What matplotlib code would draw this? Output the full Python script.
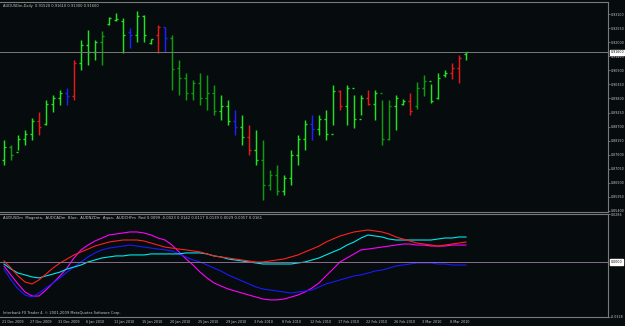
import matplotlib
matplotlib.use('Agg')
import matplotlib.pyplot as plt

dates = ['21 Dec 2009', '27 Dec 2009', '31 Dec 2009', '6 Jan 2010', '11 Jan 2010', '15 Jan 2010',
         '20 Jan 2010', '25 Jan 2010', '29 Jan 2010', '3 Feb 2010', '8 Feb 2010', '12 Feb 2010',
         '17 Feb 2010', '22 Feb 2010', '26 Feb 2010', '3 Mar 2010', '8 Mar 2010']

opens = [0.8740, 0.8790, 0.8770, 0.8820, 0.8840, 0.8890, 0.8880, 0.8960, 0.8980, 0.9000,
         0.8990, 0.9120, 0.9190, 0.9160, 0.9200, 0.9271, 0.9287, 0.9283, 0.9240, 0.9228,
         0.9303, 0.9197, 0.9228, 0.9259, 0.9217, 0.9099, 0.9060, 0.9000, 0.9040, 0.8980,
         0.9000, 0.8930, 0.8950, 0.8890, 0.8870, 0.8830, 0.8780, 0.8740, 0.8640, 0.8680,
         0.8620, 0.8670, 0.8760, 0.8820, 0.8880, 0.8860, 0.8900, 0.8840, 0.9010, 0.8950,
         0.9020, 0.8900, 0.8980, 0.8960, 0.9000, 0.8820, 0.8950, 0.8960, 0.8970, 0.8950,
         0.9020, 0.9050, 0.8980, 0.9070, 0.9080, 0.9100, 0.9152]
highs = [0.8818, 0.8798, 0.8837, 0.8857, 0.8904, 0.8927, 0.8974, 0.8994, 0.9013, 0.9021,
         0.9130, 0.9209, 0.9248, 0.9209, 0.9244, 0.9299, 0.9314, 0.9295, 0.9256, 0.9322,
         0.9306, 0.9213, 0.9267, 0.9259, 0.9228, 0.9130, 0.9080, 0.9052, 0.9080, 0.9072,
         0.9033, 0.8994, 0.8974, 0.8935, 0.8915, 0.8876, 0.8857, 0.8818, 0.8700, 0.8720,
         0.8681, 0.8778, 0.8837, 0.8896, 0.8915, 0.8915, 0.8935, 0.9033, 0.9013, 0.9033,
         0.8994, 0.8994, 0.9013, 0.9013, 0.8974, 0.8974, 0.8994, 0.8978, 0.9001, 0.9044,
         0.9072, 0.9037, 0.9080, 0.9091, 0.9119, 0.9150, 0.9161]
lows = [0.8720, 0.8739, 0.8778, 0.8798, 0.8818, 0.8837, 0.8876, 0.8927, 0.8954, 0.8954,
        0.8974, 0.9091, 0.9111, 0.9130, 0.9111, 0.9267, 0.9283, 0.9158, 0.9177, 0.9201,
        0.9201, 0.9193, 0.9158, 0.9162, 0.9013, 0.8994, 0.8974, 0.8974, 0.8954, 0.8935,
        0.8915, 0.8896, 0.8876, 0.8837, 0.8798, 0.8759, 0.8720, 0.8583, 0.8622, 0.8603,
        0.8603, 0.8642, 0.8720, 0.8778, 0.8818, 0.8837, 0.8818, 0.8876, 0.8935, 0.8876,
        0.8865, 0.8915, 0.8954, 0.8896, 0.8798, 0.8818, 0.8857, 0.8954, 0.8915, 0.8939,
        0.8990, 0.8962, 0.8978, 0.9064, 0.9056, 0.9040, 0.9130]
closes = [0.8790, 0.8760, 0.8820, 0.8840, 0.8890, 0.8870, 0.8960, 0.8980, 0.9000, 0.8990,
          0.9120, 0.9190, 0.9160, 0.9200, 0.9224, 0.9295, 0.9291, 0.9228, 0.9228, 0.9303,
          0.9228, 0.9213, 0.9259, 0.9217, 0.9095, 0.9060, 0.9000, 0.9040, 0.8980, 0.9000,
          0.8930, 0.8950, 0.8890, 0.8870, 0.8830, 0.8780, 0.8740, 0.8640, 0.8680, 0.8620,
          0.8670, 0.8760, 0.8820, 0.8880, 0.8860, 0.8900, 0.8840, 0.9010, 0.8950, 0.9020,
          0.8900, 0.8980, 0.8960, 0.9000, 0.8820, 0.8950, 0.8980, 0.8970, 0.8930, 0.9020,
          0.9050, 0.8970, 0.9060, 0.9080, 0.9100, 0.9140, 0.9160]
bar_kinds = list('LGLLLRLLLBRLLLGLLLBLLLRBGGGGGGGLLBLRLGGGLLLLBLLLRLLLRLGGLLRGGLLLRRL')

audusd = [-0.0024, -0.0078, -0.0131, -0.0179, -0.0203, -0.0203, -0.0167, -0.0125, -0.0083, -0.0036,
          0.0024, 0.0072, 0.0101, 0.0125, 0.0143, 0.0161, 0.0167, 0.0173, 0.0179, 0.0179,
          0.0173, 0.0161, 0.0143, 0.0131, 0.0101, 0.0060, 0.0018, -0.0018, -0.0060, -0.0095,
          -0.0125, -0.0143, -0.0161, -0.0173, -0.0185, -0.0197, -0.0209, -0.0221, -0.0226, -0.0226,
          -0.0221, -0.0209, -0.0197, -0.0179, -0.0155, -0.0125, -0.0083, -0.0042, 0.0000, 0.0024,
          0.0048, 0.0072, 0.0077, 0.0083, 0.0089, 0.0095, 0.0101, 0.0107, 0.0107, 0.0101,
          0.0101, 0.0095, 0.0095, 0.0095, 0.0101, 0.0101, 0.0101]
audcad = [-0.0042, -0.0107, -0.0161, -0.0197, -0.0209, -0.0185, -0.0155, -0.0125, -0.0095, -0.0060,
          -0.0030, 0.0000, 0.0030, 0.0054, 0.0072, 0.0083, 0.0089, 0.0095, 0.0101, 0.0095,
          0.0089, 0.0083, 0.0077, 0.0072, 0.0066, 0.0048, 0.0030, 0.0012, 0.0000, -0.0018,
          -0.0036, -0.0054, -0.0077, -0.0095, -0.0113, -0.0131, -0.0149, -0.0161, -0.0167, -0.0173,
          -0.0179, -0.0185, -0.0179, -0.0173, -0.0167, -0.0149, -0.0131, -0.0119, -0.0107, -0.0095,
          -0.0083, -0.0077, -0.0066, -0.0054, -0.0048, -0.0036, -0.0024, -0.0018, -0.0012, -0.0006,
          -0.0006, -0.0006, -0.0012, -0.0012, -0.0018, -0.0018, -0.0018]
audnzd = [-0.0012, -0.0042, -0.0066, -0.0077, -0.0089, -0.0095, -0.0083, -0.0072, -0.0060, -0.0042,
          -0.0030, -0.0018, 0.0000, 0.0012, 0.0024, 0.0030, 0.0036, 0.0036, 0.0042, 0.0042,
          0.0042, 0.0048, 0.0048, 0.0048, 0.0048, 0.0048, 0.0054, 0.0054, 0.0054, 0.0048,
          0.0036, 0.0030, 0.0018, 0.0012, 0.0006, 0.0000, -0.0006, -0.0012, -0.0012, -0.0012,
          -0.0012, -0.0012, -0.0006, 0.0000, 0.0012, 0.0024, 0.0042, 0.0060, 0.0077, 0.0101,
          0.0119, 0.0143, 0.0161, 0.0155, 0.0149, 0.0137, 0.0131, 0.0131, 0.0131, 0.0131,
          0.0131, 0.0131, 0.0137, 0.0143, 0.0143, 0.0149, 0.0149]
audchf = [0.0006, -0.0036, -0.0083, -0.0119, -0.0131, -0.0107, -0.0072, -0.0036, -0.0006, 0.0018,
          0.0042, 0.0060, 0.0077, 0.0095, 0.0107, 0.0119, 0.0125, 0.0131, 0.0131, 0.0131,
          0.0125, 0.0113, 0.0101, 0.0089, 0.0083, 0.0077, 0.0072, 0.0066, 0.0060, 0.0048,
          0.0036, 0.0030, 0.0024, 0.0018, 0.0012, 0.0006, 0.0000, 0.0000, 0.0006, 0.0012,
          0.0018, 0.0030, 0.0042, 0.0060, 0.0077, 0.0095, 0.0119, 0.0137, 0.0155, 0.0167,
          0.0179, 0.0185, 0.0191, 0.0185, 0.0179, 0.0167, 0.0149, 0.0137, 0.0125, 0.0113,
          0.0107, 0.0101, 0.0095, 0.0101, 0.0107, 0.0113, 0.0119]

price_ticks = [0.85400, 0.85950, 0.86500, 0.87050, 0.87600, 0.88150, 0.88700, 0.89250,
               0.89800, 0.90350, 0.90900, 0.91450, 0.92000, 0.92550, 0.93100]
bid_price = 0.91600
osc_ticks = [0.0286, -0.0328]
osc_zero = 0.0

W, H = 625, 326
BG = '#060b0d'
GRID = '#7a7a7a'
TXT = '#c8c8c8'
kind_color = {'L': '#22e022', 'G': '#109a10', 'R': '#e81818', 'B': '#2020ff'}
LBL = 2.3

fig = plt.figure(figsize=(W / 100, H / 100), dpi=100, facecolor=BG)


def fx(px):
    return px / W


def fy(py):
    return 1 - py / H


PR = 608
m_top, m_bot = 2, 212
o_top, o_bot = 214, 317
x0_px, step_px = 4, 7
xlim = (-x0_px / step_px, (PR - x0_px) / step_px)

axm = fig.add_axes([0, fy(m_bot), fx(PR), (m_bot - m_top) / H], facecolor=BG)
axo = fig.add_axes([0, fy(o_bot), fx(PR), (o_bot - o_top) / H], facecolor=BG)

s = 0.000391
a = 0.9365
axm.set_ylim(a - s * m_bot, a - s * m_top)
axm.set_xlim(*xlim)
so = 0.000596
axo.set_ylim((262 - o_bot) * so, (262 - o_top) * so)
axo.set_xlim(*xlim)

for ax in (axm, axo):
    ax.spines['left'].set_visible(False)
    for side in ('top', 'bottom', 'right'):
        ax.spines[side].set_color(GRID)
        ax.spines[side].set_linewidth(0.8)
    ax.set_xticks([])
    ax.yaxis.tick_right()
    ax.tick_params(axis='y', colors=GRID, length=1.6, width=0.6, labelsize=LBL,
                   labelcolor=TXT, pad=0.6)

tw = 0.32
for i in range(len(opens)):
    c = kind_color[bar_kinds[i]]
    axm.plot([i, i], [lows[i], highs[i]], color=c, lw=1.05, solid_capstyle='butt')
    axm.plot([i - tw, i], [opens[i], opens[i]], color=c, lw=1.0, solid_capstyle='butt')
    axm.plot([i, i + tw], [closes[i], closes[i]], color=c, lw=1.0, solid_capstyle='butt')

axm.set_yticks(price_ticks)
axm.set_yticklabels(['%.5f' % v for v in price_ticks])
axm.axhline(bid_price, color=GRID, lw=0.7)
axm.text(1.004, bid_price, '%.5f' % bid_price, transform=axm.get_yaxis_transform(),
         ha='left', va='center', fontsize=LBL, color='black', zorder=10,
         bbox=dict(boxstyle='square,pad=0.25', fc='white', ec='white'), clip_on=False)

xs = list(range(len(audusd)))
axo.plot(xs, audusd, color='#ff00ff', lw=0.8)
axo.plot(xs, audcad, color='#1a1aff', lw=0.8)
axo.plot(xs, audnzd, color='#00e8f0', lw=0.8)
axo.plot(xs, audchf, color='#ff2020', lw=0.8)
axo.axhline(osc_zero, color='#8c6c8c', lw=0.7)
axo.set_yticks(osc_ticks)
axo.set_yticklabels(['%.4f' % v for v in osc_ticks])
axo.text(1.004, osc_zero, '0.0000', transform=axo.get_yaxis_transform(),
         ha='left', va='center', fontsize=LBL, color='black', zorder=10,
         bbox=dict(boxstyle='square,pad=0.25', fc='white', ec='white'), clip_on=False)

for k, d in enumerate(dates):
    i = 4 * k
    px = x0_px + step_px * i
    fig.text(fx(px - 2), fy(322), d, fontsize=2.4, color=TXT, ha='left', va='center')

fig.text(fx(3), fy(5.5), 'AUDUSDm,Daily  0.91520 0.91610 0.91300 0.91600', fontsize=2.6,
         color=TXT, ha='left', va='center')
fig.text(fx(3), fy(218), 'AUDUSDm  Magenta,  AUDCADm  Blue,  AUDNZDm  Aqua,  AUDCHFm  Red 0.0099 '
         '-0.0023 0.0142 0.0117 0.0139 0.0029 0.0057 0.0161', fontsize=2.7, color=TXT,
         ha='left', va='center')
fig.text(fx(3), fy(313), 'Interbank FX Trader 4, \u00a9 2001-2009 MetaQuotes Software Corp.',
         fontsize=2.6, color=TXT, ha='left', va='center')

fig.savefig('out.png', dpi=100, facecolor=BG)
